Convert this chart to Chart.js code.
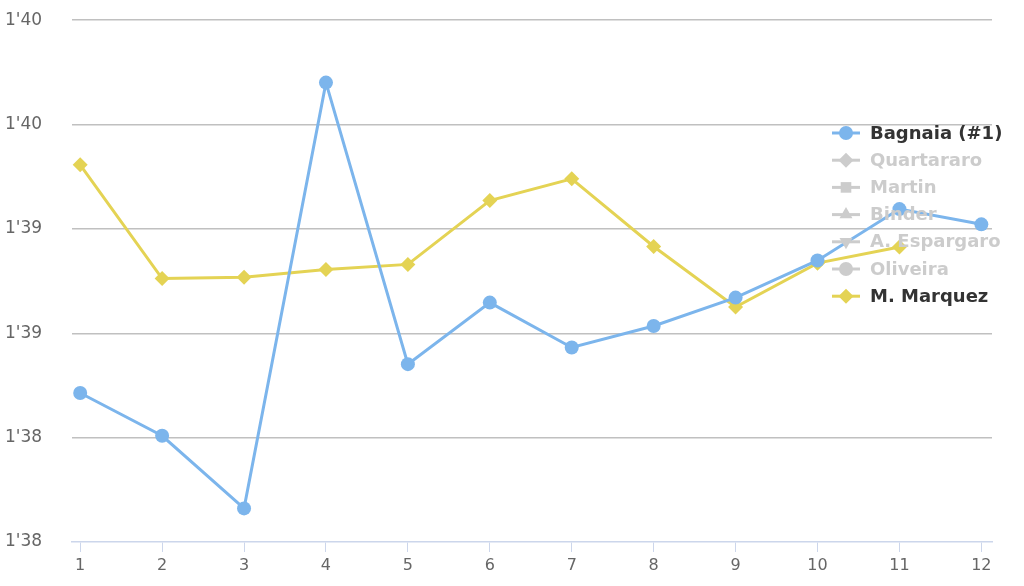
<!DOCTYPE html>
<html>
<head>
<meta charset="utf-8">
<script src="https://cdn.jsdelivr.net/npm/chart.js@4/dist/chart.umd.min.js"></script>
<style>
  html, body { margin: 0; padding: 0; background: #fff; }
  #wrap { width: 1024px; height: 586px; position: relative; }
</style>
</head>
<body>
<div id="wrap"><canvas id="c" width="1024" height="586"></canvas></div>
<script>
// laps and lap times (seconds)
const laps = [1, 2, 3, 4, 5, 6, 7, 8, 9, 10, 11, 12];
const riders = ['Bagnaia (#1)', 'Quartararo', 'Martin', 'Binder', 'A. Espargaro', 'Oliveira', 'M. Marquez'];
const bagnaiaTimes = [98.714, 98.509, 98.161, 100.201, 98.852, 99.147, 98.932, 99.035, 99.171, 99.349, 99.595, 99.522];
const marquezTimes = [99.807, 99.262, 99.269, 99.305, 99.330, 99.636, 99.740, 99.416, 99.126, 99.336, 99.413];
const hiddenRiders = ['Quartararo', 'Martin', 'Binder', 'A. Espargaro', 'Oliveira'];
const yTicks = [98, 98.5, 99, 99.5, 100, 100.5];

const colors = ['#7cb5ec', '#434348', '#90ed7d', '#f7a35c', '#8085e9', '#f15c80', '#e4d354'];
const styles = ['circle', 'rectRot', 'rect', 'triangle', 'triangle', 'circle', 'rectRot'];
const rotations = [0, 0, 0, 0, 180, 0, 0];

function lapFmt(v) {
  const m = Math.floor(v / 60);
  const s = Math.floor(v - m * 60);
  return m + "'" + (s < 10 ? '0' + s : s);
}

function seriesData(name) {
  if (name === 'Bagnaia (#1)') return bagnaiaTimes.map((t, i) => ({x: laps[i], y: t}));
  if (name === 'M. Marquez') return marquezTimes.map((t, i) => ({x: laps[i], y: t}));
  return [];
}

const datasets = riders.map((name, i) => ({
  label: name,
  data: seriesData(name),
  hidden: hiddenRiders.includes(name),
  borderColor: colors[i],
  backgroundColor: colors[i],
  borderWidth: 3,
  pointStyle: styles[i],
  rotation: rotations[i],
  pointRadius: styles[i] === 'circle' ? 7 : 7.5,
  pointBorderWidth: 0,
  tension: 0
}));

// legend drawn inside the plot, highcharts style
const legendInside = {
  id: 'legendInside',
  afterDraw(chart) {
    const ctx = chart.ctx;
    const x0 = 832, y0 = 133, step = 27.2;
    ctx.save();
    chart.data.datasets.forEach((ds, i) => {
      const vis = chart.isDatasetVisible(i);
      const col = vis ? ds.borderColor : '#cccccc';
      const y = y0 + i * step;
      ctx.strokeStyle = col;
      ctx.lineWidth = 3;
      ctx.beginPath();
      ctx.moveTo(x0, y);
      ctx.lineTo(x0 + 28, y);
      ctx.stroke();
      ctx.fillStyle = col;
      Chart.helpers.drawPoint(ctx, {
        pointStyle: ds.pointStyle, rotation: ds.rotation,
        radius: ds.pointStyle === 'circle' ? 7 : 7.5, borderWidth: 0
      }, x0 + 14, y);
      ctx.fillStyle = vis ? '#333333' : '#cccccc';
      ctx.font = 'bold 18px "DejaVu Sans"';
      ctx.textBaseline = 'middle';
      ctx.textAlign = 'left';
      ctx.fillText(ds.label, x0 + 38, y + 1);
    });
    ctx.restore();
  }
};

new Chart(document.getElementById('c'), {
  type: 'line',
  data: { datasets },
  plugins: [legendInside],
  options: {
    responsive: false,
    animation: false,
    layout: { padding: { left: 5, right: 32, top: 20, bottom: 0 } },
    plugins: { legend: { display: false }, tooltip: { enabled: false } },
    scales: {
      x: {
        type: 'linear',
        min: 0.9,
        max: 12.13,
        afterBuildTicks: s => { s.ticks = laps.map(v => ({value: v})); },
        afterFit: s => { s.height = 44; },
        grid: { drawOnChartArea: false, color: '#ccd6eb', tickLength: 10, lineWidth: 1 },
        border: { color: '#ccd6eb', width: 1.5 },
        ticks: { color: '#666666', font: { family: 'DejaVu Sans', size: 16 }, padding: 4, maxRotation: 0 }
      },
      y: {
        min: 98,
        max: 100.5,
        afterBuildTicks: s => { s.ticks = yTicks.map(v => ({value: v})); },
        afterFit: s => { s.width = 67; },
        grid: {
          color: ctx => ctx.tick && ctx.tick.value === 98 ? 'rgba(0,0,0,0)' : '#c0c0c0',
          lineWidth: 1.5,
          drawTicks: false
        },
        border: { display: false },
        ticks: {
          color: '#666666',
          font: { family: 'DejaVu Sans', size: 17 },
          crossAlign: 'far',
          padding: 10,
          callback: v => lapFmt(v)
        }
      }
    }
  }
});
</script>
</body>
</html>
